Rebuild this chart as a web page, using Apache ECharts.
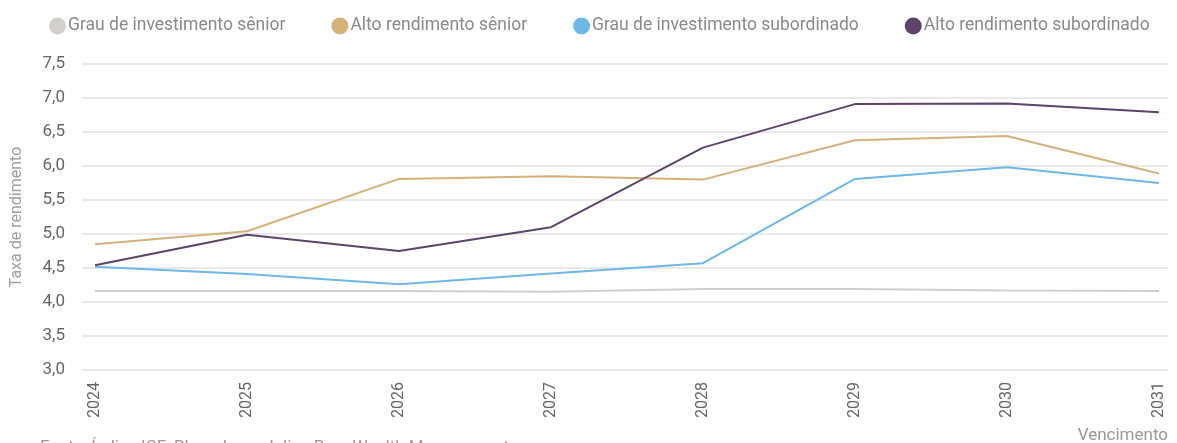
<!DOCTYPE html>
<html>
<head>
<meta charset="utf-8">
<script src="https://cdn.jsdelivr.net/npm/echarts@6/dist/echarts.min.js"></script>
<style>
html, body { margin: 0; padding: 0; background: #fff; }
#chart { width: 1177px; height: 443px; }
</style>
</head>
<body>
<div id="chart"></div>
<script>
var anos = [2024, 2025, 2026, 2027, 2028, 2029, 2030, 2031];
var grauSenior = [4.16, 4.16, 4.16, 4.15, 4.19, 4.19, 4.17, 4.16];
var altoSenior = [4.85, 5.04, 5.81, 5.85, 5.80, 6.38, 6.44, 5.89];
var grauSubord = [4.52, 4.41, 4.26, 4.42, 4.57, 5.81, 5.98, 5.75];
var altoSubord = [4.54, 4.99, 4.75, 5.10, 6.27, 6.91, 6.92, 6.79];
var ticksY = [3.0, 3.5, 4.0, 4.5, 5.0, 5.5, 6.0, 6.5, 7.0, 7.5];

function pares(valores) {
    return anos.map(function (a, i) { return [a, valores[i]]; });
}

var fonte = 'Roboto, "DejaVu Sans", sans-serif';
var chart = echarts.init(document.getElementById('chart'));

function serie(nome, valores, cor) {
    return {
        name: nome,
        type: 'line',
        data: pares(valores),
        symbol: 'none',
        lineStyle: { color: cor, width: 2 },
        itemStyle: { color: cor }
    };
}

var option = {
    backgroundColor: '#fff',
    animation: false,
    textStyle: { fontFamily: fonte },
    legend: {
        left: 44,
        top: 12,
        icon: 'circle',
        itemWidth: 17,
        itemHeight: 17,
        itemGap: 46,
        textStyle: { color: '#8a8a8a', fontSize: 17.5, fontFamily: fonte, padding: [0, 0, 0, -3] }
    },
    grid: { left: 82, right: 9, top: 64, bottom: 73, containLabel: false },
    xAxis: {
        type: 'value',
        min: 2023.914,
        max: 2031.06,
        splitLine: { show: false },
        axisLine: { show: false },
        axisTick: { show: false },
        axisLabel: {
            customValues: anos,
            rotate: 90,
            margin: 12,
            color: '#666',
            fontSize: 16,
            fontFamily: fonte,
            formatter: function (v) { return String(Math.round(v)); }
        }
    },
    yAxis: {
        type: 'value',
        min: 3,
        max: 7.5,
        interval: 0.5,
        name: 'Taxa de rendimento',
        nameLocation: 'middle',
        nameGap: 57,
        nameTextStyle: { color: '#a0a0a0', fontSize: 16, fontFamily: fonte },
        axisLine: { show: false },
        axisTick: { show: false },
        splitLine: { lineStyle: { color: '#e2e2e2', width: 1.5 } },
        axisLabel: {
            margin: 17,
            color: '#666',
            fontSize: 17,
            fontFamily: fonte,
            customValues: ticksY,
            formatter: function (v) { return v.toFixed(1).replace('.', ','); }
        }
    },
    graphic: [
        {
            type: 'text',
            right: 9,
            top: 427,
            style: { text: 'Vencimento', fill: '#999', fontSize: 17, fontFamily: fonte }
        },
        {
            type: 'text',
            left: 40,
            top: 439,
            style: { text: 'Fonte: Índice ICE, Bloomberg, Julius Baer Wealth Management', fill: '#999', fontSize: 17, fontFamily: fonte }
        }
    ],
    series: [
        serie('Grau de investimento sênior', grauSenior, '#d3d0cb'),
        serie('Alto rendimento sênior', altoSenior, '#d4b27a'),
        serie('Grau de investimento subordinado', grauSubord, '#6cb8e6'),
        serie('Alto rendimento subordinado', altoSubord, '#5e4468')
    ]
};
chart.setOption(option);
</script>
</body>
</html>
